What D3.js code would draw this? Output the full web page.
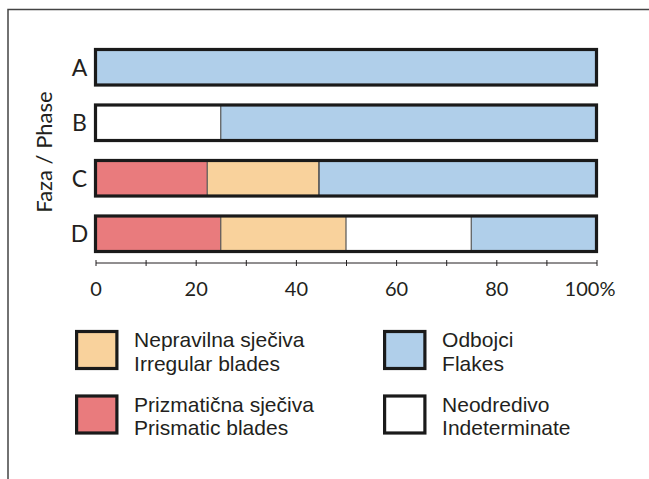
<!DOCTYPE html>
<meta charset="utf-8">
<style>
body { margin: 0; background: #fff; }
svg { display: block; }
text { font-family: Lato, "Open Sans", sans-serif; fill: #231f20; }
.axis path, .axis line { stroke: #231f20; stroke-width: 1px; }
.axis text { font-size: 20px; font-family: Lato, sans-serif; fill: #231f20; }
.cat { font-size: 23px; }
.ttl { font-size: 22px; }
.leg { font-size: 21px; font-family: "Liberation Sans", Arial, sans-serif; }
</style>
<body>
<script src="https://d3js.org/d3.v7.min.js"></script>
<script>
// phases and their shares (%)
var phases = ["A", "B", "C", "D"];
var prismatic     = [0, 0, 22.3, 25];
var irregular     = [0, 0, 22.3, 25];
var indeterminate = [0, 25, 0, 25];
var flakes        = [100, 75, 55.4, 25];
var xTicks = [0, 10, 20, 30, 40, 50, 60, 70, 80, 90, 100];

var keys = ["prismatic", "irregular", "indeterminate", "flakes"];
var colors = {prismatic: "#e97b7d", irregular: "#f9d29c", indeterminate: "#ffffff", flakes: "#b0cfea"};

var rows = phases.map(function(p, i) {
  return {phase: p, prismatic: prismatic[i], irregular: irregular[i],
          indeterminate: indeterminate[i], flakes: flakes[i]};
});

var W = 649, H = 479;
var svg = d3.select("body").append("svg").attr("width", W).attr("height", H);

// frame
svg.append("path")
    .attr("d", "M8," + H + "V9.5H" + W)
    .attr("fill", "none")
    .attr("stroke", "#444")
    .attr("stroke-width", 1.5);

var x = d3.scaleLinear().domain([0, 100]).range([95.5, 596.5]);
var y = d3.scaleBand().domain(phases).range([39.5, 261.5]).paddingInner(0.36).paddingOuter(0.18);

var stack = d3.stack().keys(keys)(rows);

var g = svg.append("g");
stack.forEach(function(layer) {
  g.selectAll(null)
    .data(layer)
    .enter().append("rect")
      .attr("x", function(d) { return x(d[0]); })
      .attr("y", function(d) { return y(d.data.phase); })
      .attr("width", function(d) { return x(d[1]) - x(d[0]); })
      .attr("height", y.bandwidth())
      .attr("fill", colors[layer.key]);
});

// thin dividers between segments
stack.slice(0, -1).forEach(function(layer) {
  g.selectAll(null)
    .data(layer.filter(function(d) { return d[1] > 0 && d[1] < 100; }))
    .enter().append("line")
      .attr("x1", function(d) { return x(d[1]); })
      .attr("x2", function(d) { return x(d[1]); })
      .attr("y1", function(d) { return y(d.data.phase); })
      .attr("y2", function(d) { return y(d.data.phase) + y.bandwidth(); })
      .attr("stroke", "#555")
      .attr("stroke-width", 1.2);
});

// outline of each bar
g.selectAll(".outline")
  .data(phases)
  .enter().append("rect")
    .attr("class", "outline")
    .attr("x", x(0))
    .attr("y", function(d) { return y(d); })
    .attr("width", x(100) - x(0))
    .attr("height", y.bandwidth())
    .attr("fill", "none")
    .attr("stroke", "#1a1a1a")
    .attr("stroke-width", 3.2);

// category labels
svg.selectAll(".cat")
  .data(phases)
  .enter().append("text")
    .attr("class", "cat")
    .attr("x", 79.5)
    .attr("y", function(d) { return y(d) + y.bandwidth() / 2; })
    .attr("dy", "0.36em")
    .attr("text-anchor", "middle")
    .text(function(d) { return d; });

svg.append("text")
    .attr("class", "ttl")
    .attr("transform", "translate(52,152) rotate(-90)")
    .attr("text-anchor", "middle")
    .text("Faza / Phase");

// x axis
var axis = svg.append("g")
    .attr("class", "axis")
    .attr("transform", "translate(0,262.5)")
    .call(d3.axisBottom(x).tickValues(xTicks).tickSize(3.5).tickSizeOuter(0)
      .tickFormat(function(d) { return d % 20 ? "" : (d === 100 ? "100%" : d); }));
axis.select(".domain").attr("stroke", "#231f20");
axis.selectAll(".tick line").attr("y1", -2.5);
axis.selectAll(".tick text")
    .attr("y", 33.5)
    .attr("dy", 0)
    .attr("dx", function(d) { return d === 100 ? -7 : 0; });

// legend
var legend = [
  {key: "irregular", l1: "Nepravilna sječiva", l2: "Irregular blades", col: 0, row: 0},
  {key: "flakes", l1: "Odbojci", l2: "Flakes", col: 1, row: 0},
  {key: "prismatic", l1: "Prizmatična sječiva", l2: "Prismatic blades", col: 0, row: 1},
  {key: "indeterminate", l1: "Neodredivo", l2: "Indeterminate", col: 1, row: 1}
];
var lg = svg.selectAll(".lg")
  .data(legend)
  .enter().append("g")
    .attr("class", "lg")
    .attr("transform", function(d) { return "translate(" + (76.6 + d.col * 308) + "," + (331.5 + d.row * 64.5) + ")"; });
lg.append("rect")
    .attr("width", 40.3).attr("height", 37)
    .attr("fill", function(d) { return colors[d.key]; })
    .attr("stroke", "#1a1a1a")
    .attr("stroke-width", 3.2);
lg.append("text").attr("class", "leg").attr("x", 57.5).attr("y", 15.5).text(function(d) { return d.l1; });
lg.append("text").attr("class", "leg").attr("x", 57.5).attr("y", 39.2).text(function(d) { return d.l2; });
</script>
</body>
